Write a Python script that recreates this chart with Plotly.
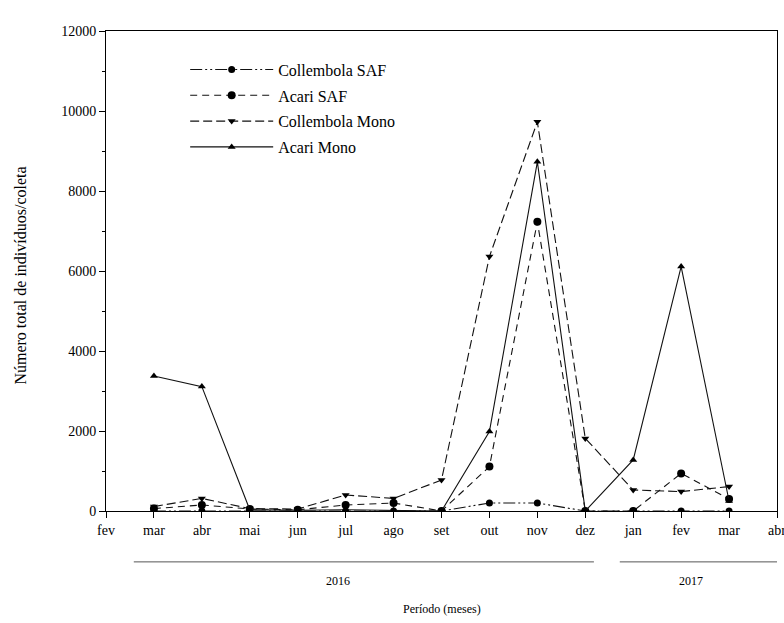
import plotly.graph_objects as go

# ---- data ----
month_labels = ["fev", "mar", "abr", "mai", "jun", "jul", "ago", "set",
                "out", "nov", "dez", "jan", "fev", "mar", "abr"]
tick_pos = list(range(len(month_labels)))
sample_pos = [1, 2, 3, 4, 5, 6, 7, 8, 9, 10, 11, 12, 13]   # mar/2016 ... mar/2017

collembola_saf = [0, 0, 0, 0, 0, 0, 0, 200, 200, 0, 0, 0, 0]
acari_saf = [60, 150, 50, 30, 150, 200, 0, 1110, 7230, 0, 0, 940, 300]
collembola_mono = [110, 315, 60, 50, 400, 315, 775, 6360, 9730, 1815, 525, 485, 610]
acari_mono = [3375, 3110, 30, 20, 30, 20, 0, 1985, 8730, 0, 1275, 6110, 250]

series = [
    ("Collembola SAF", collembola_saf, "12px,3px,2px,3px,2px,3px", "circle", 7),
    ("Acari SAF", acari_saf, "7px,5px", "circle", 8),
    ("Collembola Mono", collembola_mono, "9px,4px", "triangle-down", 7),
    ("Acari Mono", acari_mono, "solid", "triangle-up", 7),
]

year_groups = [("2016", 0.58, 10.18, 4.84), ("2017", 10.72, 14.05, 12.2)]

FONT = "Liberation Serif, Times New Roman, serif"

fig = go.Figure()
for i, (name, vals, dash, sym, size) in enumerate(series):
    fig.add_trace(go.Scatter(
        x=sample_pos, y=vals, name=name, mode="lines+markers",
        legendgroup=name,
        line=dict(color="#111111", width=1.1, dash=dash),
        marker=dict(color="black", symbol=sym, size=size),
    ))

shapes = []
annotations = []
for label, x0, x1, xc in year_groups:
    shapes.append(dict(type="line", xref="x", yref="paper", x0=x0, x1=x1,
                       y0=-0.106, y1=-0.106, line=dict(color="#555555", width=1)))
    annotations.append(dict(text=label, xref="x", yref="paper", x=xc, y=-0.146,
                            showarrow=False, font=dict(family=FONT, size=12, color="black"),
                            xanchor="center", yanchor="middle"))

annotations.append(dict(text="Período (meses)", xref="paper", yref="paper",
                        x=0.5, y=-0.205, showarrow=False,
                        font=dict(family=FONT, size=12, color="black"),
                        xanchor="center", yanchor="middle"))
annotations.append(dict(text="Número total de indivíduos/coleta", xref="paper", yref="paper",
                        x=-0.127, y=0.49, showarrow=False, textangle=-90,
                        font=dict(family=FONT, size=16, color="black"),
                        xanchor="center", yanchor="middle"))

fig.update_layout(
    width=784, height=623,
    margin=dict(l=106, r=7, t=31, b=112),
    paper_bgcolor="white", plot_bgcolor="white",
    font=dict(family=FONT, size=14, color="black"),
    showlegend=True,
    legend=dict(x=0.118, y=0.955, xanchor="left", yanchor="top",
                bgcolor="rgba(0,0,0,0)", itemwidth=83,
                font=dict(family=FONT, size=16, color="black"),
                traceorder="grouped", tracegroupgap=2),
    shapes=shapes, annotations=annotations,
    xaxis=dict(range=[0, 14], tickvals=tick_pos, ticktext=month_labels,
               showgrid=False, zeroline=False, showline=True, linecolor="black",
               linewidth=1, mirror=True, ticks="outside", ticklen=6,
               tickcolor="black", tickfont=dict(family=FONT, size=14),
               ticklabeloverflow="allow", automargin=False),
    yaxis=dict(range=[0, 12000], dtick=2000, tickformat="d",
               showgrid=False, zeroline=False, showline=True, linecolor="black",
               linewidth=1, mirror=True, ticks="outside", ticklen=6,
               tickcolor="black", tickfont=dict(family=FONT, size=14),
               automargin=False,
               minor=dict(dtick=1000, ticks="outside", ticklen=3, tickcolor="black")),
)

fig.write_html("out.html")
